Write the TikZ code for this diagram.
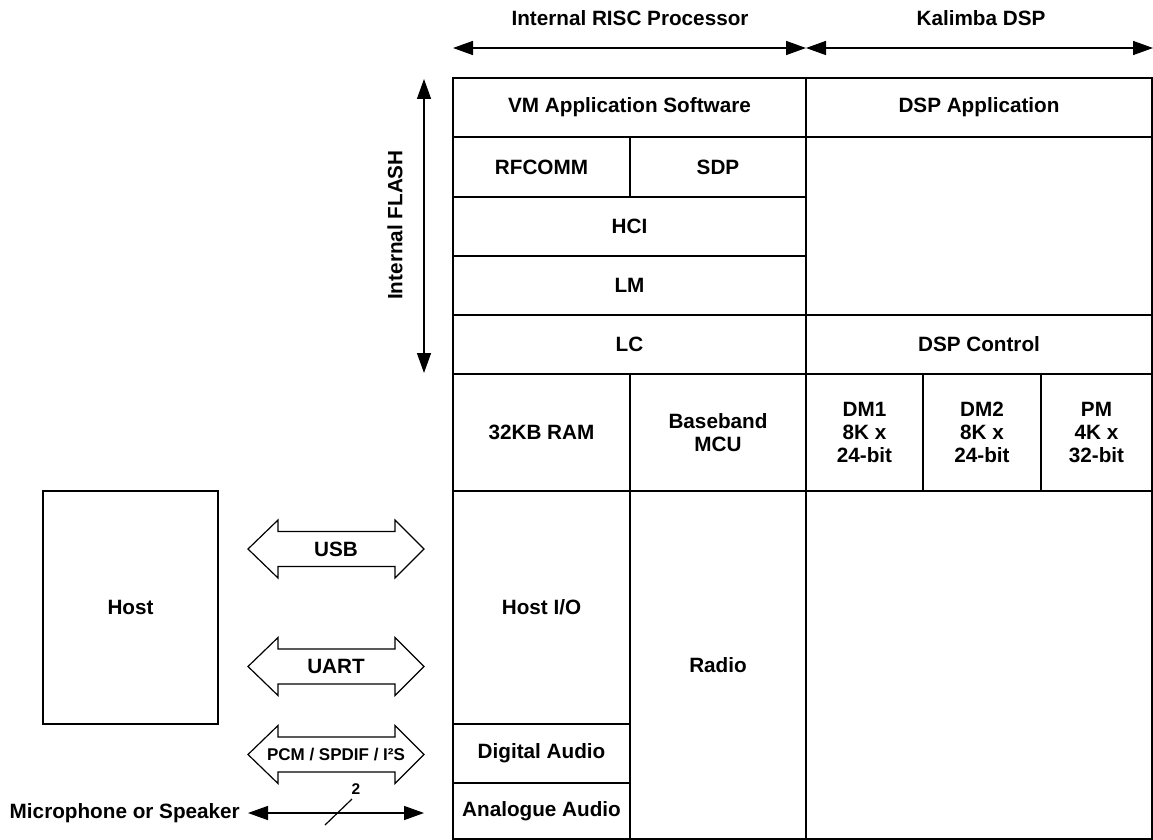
\documentclass[tikz,border=0pt]{standalone}
\usepackage{fontspec}
\setmainfont{Liberation Sans}
\usetikzlibrary{arrows.meta}
\newcommand\cellnode[6]{\node[cell, minimum width={(#4)-(#2)}, minimum height={(#5)-(#3)}] (#1) at ({((#2)+(#4))/2},{((#3)+(#5))/2}) {#6};}
\newcommand\blockarrow[3]{%
  \node[smalltxt] (#1) at (336,#2) {#3};
  \draw[barrow] (248,#2) -- (278,{#2-29}) -- (278,{#2-17.5}) -- (395,{#2-17.5}) -- (395,{#2-29}) -- (424,#2)
     -- (395,{#2+29}) -- (395,{#2+17.5}) -- (278,{#2+17.5}) -- (278,{#2+29}) -- cycle;}
\begin{document}
\begin{tikzpicture}[x=1pt,y=-1pt,
  every node/.style={font=\fontsize{20.7}{23}\selectfont\bfseries, align=center, inner sep=0pt},
  cell/.style={draw, line width=1.5pt},
  smalltxt/.style={font=\fontsize{20.7}{23}\selectfont\bfseries},
  barrow/.style={draw, line width=1.2pt, line join=miter},
  dimarrow/.style={line width=1.5pt, {Triangle[length=20pt,width=14pt]}-{Triangle[length=20pt,width=14pt]}}
]
\useasboundingbox (0,0) rectangle (1153,840);

% header labels and arrows
\node (risc) at (630,18) {Internal RISC Processor};
\node (kal) at (981,18) {Kalimba DSP};
\coordinate (ta) at (453,48);
\coordinate (tb) at (806,48);
\coordinate (tc) at (1153,48);
\draw[dimarrow] (ta) -- (tb);
\draw[dimarrow] (tb) -- (tc);

% flash arrow
\node[rotate=90] (flash) at (395,225) {Internal FLASH};
\coordinate (fa) at (424,79);
\coordinate (fb) at (424,373);
\draw[dimarrow] (fa) -- (fb);

% grid
\cellnode{vm}{453}{78}{806}{137}{VM Application Software}
\cellnode{dspapp}{806}{78}{1152}{137}{DSP Application}
\cellnode{rfcomm}{453}{137}{630}{197}{RFCOMM}
\cellnode{sdp}{630}{137}{806}{197}{SDP}
\cellnode{hci}{453}{197}{806}{256}{HCI}
\cellnode{lm}{453}{256}{806}{315}{LM}
\cellnode{dspmid}{806}{137}{1152}{315}{}
\cellnode{lc}{453}{315}{806}{374}{LC}
\cellnode{dspctl}{806}{315}{1152}{374}{DSP Control}
\cellnode{ram}{453}{374}{630}{491}{32KB RAM}
\cellnode{bb}{630}{374}{806}{491}{Baseband\\MCU}
\cellnode{dm1}{806}{374}{923}{491}{DM1\\8K x\\24-bit}
\cellnode{dm2}{923}{374}{1041}{491}{DM2\\8K x\\24-bit}
\cellnode{pm}{1041}{374}{1152}{491}{PM\\4K x\\32-bit}
\cellnode{hostio}{453}{491}{630}{724}{Host I/O}
\cellnode{digaudio}{453}{724}{630}{783}{Digital Audio}
\cellnode{anaudio}{453}{783}{630}{839}{Analogue Audio}
\cellnode{radio}{630}{491}{806}{839}{Radio}
\cellnode{dspbot}{806}{491}{1152}{839}{}
\cellnode{host}{43}{491}{218}{724}{Host}

% block arrows
\blockarrow{usb}{549}{USB}
\blockarrow{uart}{666.5}{UART}
\tikzset{smalltxt/.style={font=\fontsize{17}{20}\selectfont\bfseries}}
\blockarrow{pcm}{754.5}{PCM / SPDIF / I²S}

% microphone / speaker
\node[anchor=east] (mic) at (240,813) {Microphone or Speaker};
\coordinate (ml) at (248,813);
\coordinate (mr) at (424,813);
\draw[dimarrow] (ml) -- (mr);
\coordinate (sa) at (325,825);
\coordinate (sb) at (352,799);
\draw[line width=1.2pt] (sa) -- (sb);
\node[font=\fontsize{15.5}{17}\selectfont\bfseries] (two) at (356,789) {2};
\end{tikzpicture}
\end{document}
